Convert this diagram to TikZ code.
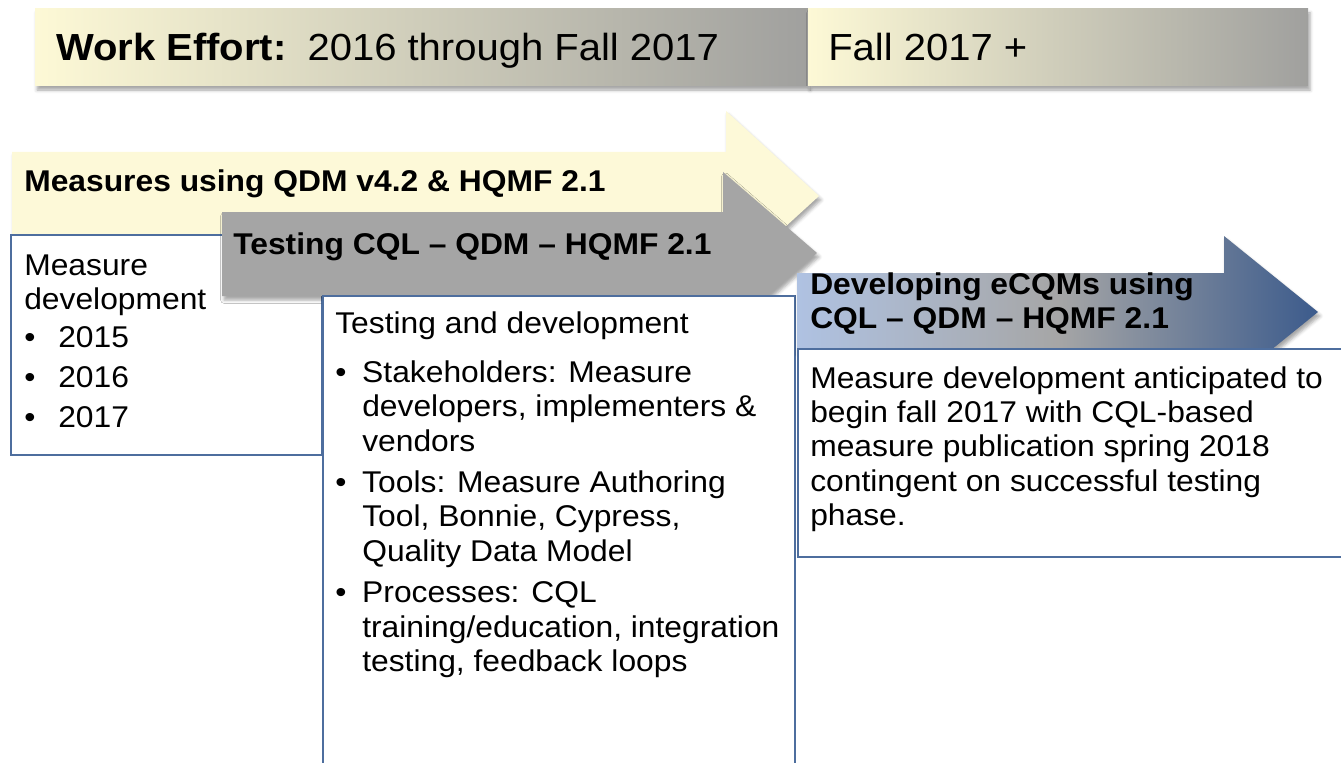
\documentclass[tikz,border=0pt]{standalone}
\usepackage{fontspec}
\setmainfont{Liberation Sans}[FakeStretch=1.06]
\usetikzlibrary{shadows.blur}

\definecolor{cream}{HTML}{FDF9D6}
\definecolor{hdrgray}{HTML}{A0A09E}
\definecolor{arrowcream}{HTML}{FDF9D8}
\definecolor{arrowgray}{HTML}{A5A5A5}
\definecolor{ltblue}{HTML}{AFC2E2}
\definecolor{midgray}{HTML}{A6A6A6}
\definecolor{dkblue}{HTML}{3C5B8C}
\definecolor{boxline}{HTML}{4E6E9E}

% strut that fixes the height of a block's first line
\newcommand\firstline{\rule{0pt}{20pt}}
% bullet set in a box of the given width
\newcommand\bulletin[1]{\makebox[#1][l]{•}}

\begin{document}
\begin{tikzpicture}[x=0.75pt,y=-0.75pt,
  softshadow/.style={blur shadow={shadow xshift=1.5pt, shadow yshift=-3pt,
      shadow blur radius=2.5pt, shadow opacity=35}},
  hdrbar/.style={left color=cream, right color=hdrgray, softshadow},
  hdrtext/.style={font={\fontsize{28.3pt}{32pt}\selectfont}, inner sep=0pt, anchor=base west},
  titletext/.style={font={\fontsize{22.5pt}{25.9pt}\selectfont\bfseries}, inner sep=0pt, anchor=base west},
  bodytext/.style={font={\fontsize{22.5pt}{25.9pt}\selectfont}, inner sep=0pt, align=left, anchor=north west},
  panel/.style={fill=white, draw=boxline, line width=0.9pt},
]
\useasboundingbox (0,0) rectangle (1341,763);
\clip (0,0) rectangle (1341,763);

% timeline header
\path[hdrbar] (35,9) rectangle (808,86);
\path[hdrbar] (808,9) rectangle (1308,86);
\node[hdrtext] (hdrnow) at (56,61) {\textbf{Work Effort:}\hspace{0.556em}2016 through Fall 2017};
\node[hdrtext] (hdrnext) at (828,61) {Fall 2017 +};

% phase 1: QDM / HQMF measures
\path[fill=arrowcream, softshadow] (12,152) -- (726,152) -- (726,111) -- (819,196)
  -- (726,281) -- (726,240) -- (12,240) -- cycle;
\node[titletext] (qdmtitle) at (24,191) {Measures using QDM v4.2 \& HQMF 2.1};

\path[panel] (11,235) rectangle (322,455);
\node[bodytext] (qdmtext) at (24,248.3) {\firstline Measure\\
  development\\[2.6pt]
  \bulletin{25.5pt}2015\\[4.1pt]
  \bulletin{25.5pt}2016\\[4.1pt]
  \bulletin{25.5pt}2017};

% phase 2: CQL testing
\path[fill=arrowgray, softshadow] (222,212) -- (723,212) -- (723,172) -- (817,253)
  -- (723,334) -- (723,296) -- (222,296) -- cycle;
\node[titletext] (testtitle) at (233,254) {Testing CQL – QDM – HQMF 2.1};

\path[panel] (323,296) rectangle (795,790);
\node[bodytext] (testtext) at (335,306.3) {\firstline Testing and development\\[10.9pt]
  \bulletin{20.25pt}Stakeholders: Measure\\
  \hspace*{20.25pt}developers, implementers \&\\
  \hspace*{20.25pt}vendors\\[4.9pt]
  \bulletin{20.25pt}Tools: Measure Authoring\\
  \hspace*{20.25pt}Tool, Bonnie, Cypress,\\
  \hspace*{20.25pt}Quality Data Model\\[4.9pt]
  \bulletin{20.25pt}Processes: CQL\\
  \hspace*{20.25pt}training/education, integration\\
  \hspace*{20.25pt}testing, feedback loops};

% phase 3: eCQM development
\path[left color=ltblue, right color=dkblue, middle color=midgray, softshadow]
  (797,273) -- (1224,273) -- (1224,236) -- (1318,312)
  -- (1224,388) -- (1224,351) -- (797,351) -- cycle;
\node[bodytext, font={\fontsize{22.5pt}{25.5pt}\selectfont\bfseries}] (ecqmtitle) at (810,267.3)
  {\firstline Developing eCQMs using\\CQL – QDM – HQMF 2.1};

\path[panel] (798,349) rectangle (1360,557);
\node[bodytext, font={\fontsize{22.5pt}{25.7pt}\selectfont}] (ecqmtext) at (810,361.3)
  {\firstline Measure development anticipated to\\
  begin fall 2017 with CQL-based\\
  measure publication spring 2018\\
  contingent on successful testing\\
  phase.};
\end{tikzpicture}
\end{document}
